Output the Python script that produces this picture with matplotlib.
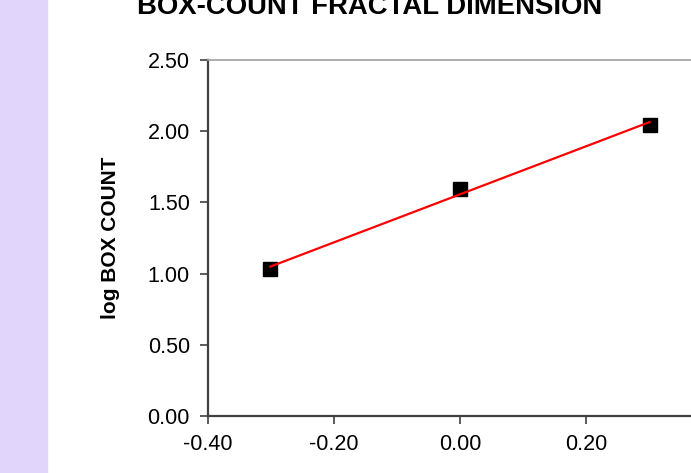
"""Box-count fractal dimension"""
import numpy as np
import matplotlib
matplotlib.use('Agg')
import matplotlib.pyplot as plt

# log(1/box size) vs log(box count)
log_scale = [-0.301, 0.0, 0.301]
log_count = [1.03, 1.595, 2.045]

x_ticks = [-0.40, -0.20, 0.00, 0.20]
y_ticks = [0.0, 0.5, 1.0, 1.5, 2.0, 2.5]


def main():
    plt.rcParams['font.family'] = ['Liberation Sans', 'DejaVu Sans']
    fig = plt.figure(figsize=(6.91, 4.73), dpi=100)
    fig.patches.append(plt.Rectangle((0, 0), 47 / 691, 1, transform=fig.transFigure,
                                     color='#e1d5fc', zorder=0))

    ax = fig.add_axes([208 / 691, 57 / 473, 504 / 691, 356 / 473])
    slope, icpt = np.polyfit(log_scale, log_count, 1)
    xs = np.array([log_scale[0], log_scale[-1]])
    ax.plot(xs, slope * xs + icpt, color='#ff0000', lw=1.6, zorder=3)
    ax.plot(log_scale, log_count, 's', color='black', ms=10, zorder=2)

    ax.set_xlim(-0.4, 0.4)
    ax.set_ylim(0, 2.5)
    ax.set_xticks(x_ticks)
    ax.set_yticks(y_ticks)
    ax.set_xticklabels(['%.2f' % v for v in x_ticks])
    ax.set_yticklabels(['%.2f' % v for v in y_ticks])
    ax.tick_params(direction='out', length=6, width=1.2, color='#404040',
                   labelsize=15.5, pad=7)

    for side in ['left', 'bottom']:
        ax.spines[side].set_color('#404040')
        ax.spines[side].set_linewidth(1.6)
    ax.spines['top'].set_color('#a0a0a0')
    ax.spines['top'].set_linewidth(1.2)
    ax.spines['right'].set_color('#a0a0a0')

    ax.set_ylabel('log BOX COUNT', fontsize=15, fontweight='bold', labelpad=20)
    fig.text(370 / 691, 1 - 14 / 473, 'BOX-COUNT FRACTAL DIMENSION', ha='center',
             va='baseline', fontsize=19.8, fontweight='bold')

    fig.savefig('out.png', dpi=100)


if __name__ == '__main__':
    main()
